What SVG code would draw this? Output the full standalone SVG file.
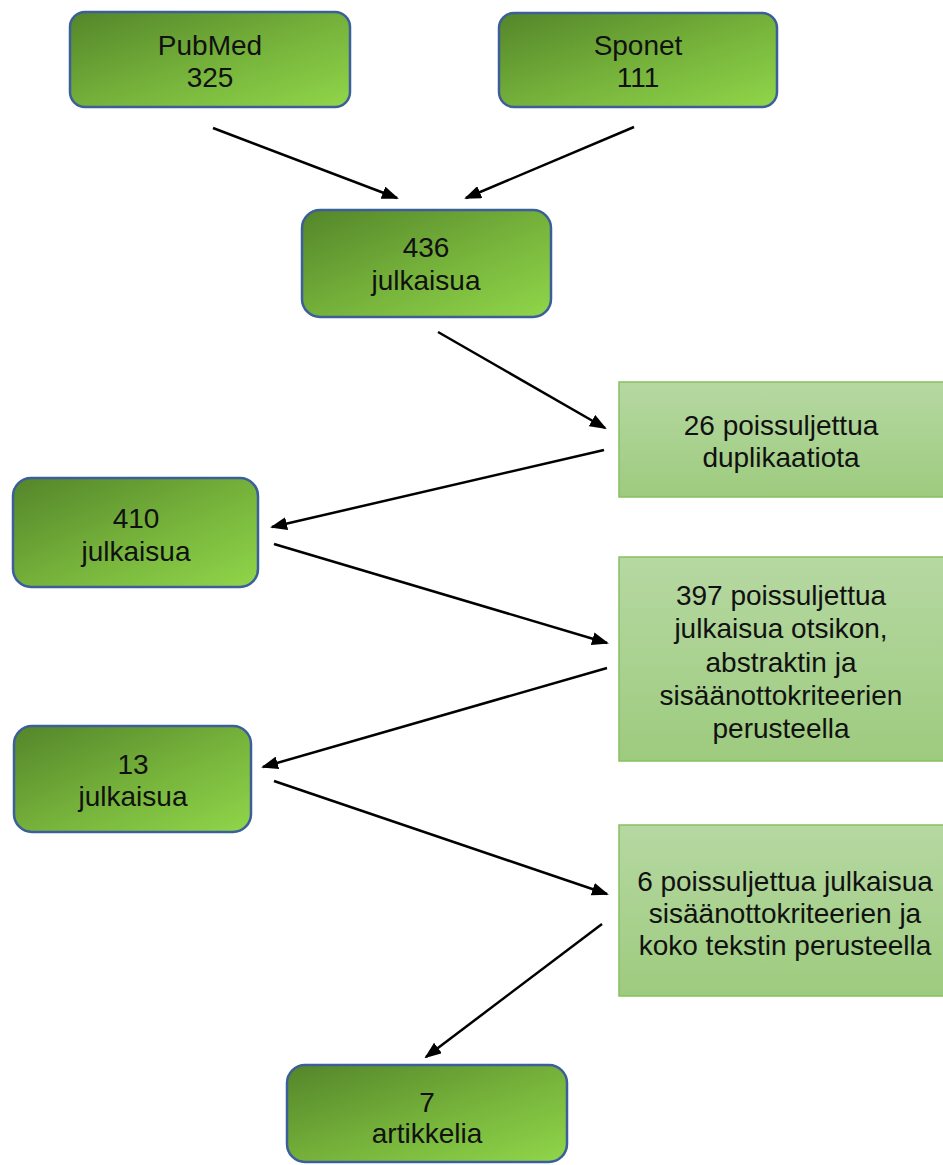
<svg xmlns="http://www.w3.org/2000/svg" width="943" height="1165" viewBox="0 0 943 1165">
<defs>
<linearGradient id="gDark" x1="0" y1="0" x2="1" y2="1">
<stop offset="0" stop-color="#54852a"/>
<stop offset="0.5" stop-color="#74b03a"/>
<stop offset="1" stop-color="#90d64a"/>
</linearGradient>
<linearGradient id="gLight" x1="0" y1="0" x2="0" y2="1">
<stop offset="0" stop-color="#b6d8a2"/>
<stop offset="1" stop-color="#9dcb7e"/>
</linearGradient>
<marker id="ah" markerWidth="17" markerHeight="13" refX="15" refY="6.5" orient="auto" markerUnits="userSpaceOnUse" viewBox="0 0 17 13">
<path d="M0,0 L17,6.5 L0,13 z" fill="#000"/>
</marker>
</defs>
<style>
.rn{fill:url(#gDark);stroke:#3c5f9a;stroke-width:2.5}
.sq{fill:url(#gLight);stroke:#86c060;stroke-width:1.5}
text{font-family:"Liberation Sans",Arial,sans-serif;font-size:28px;fill:#111;text-anchor:middle}
.c line{stroke:#000;stroke-width:2.5;marker-end:url(#ah)}
</style>
<rect width="943" height="1165" fill="#fff"/>
<g class="c" id="connectors">
<line x1="213" y1="128" x2="397" y2="198"/>
<line x1="634" y1="127" x2="466" y2="198"/>
<line x1="438" y1="332" x2="605" y2="428"/>
<line x1="604" y1="450" x2="272" y2="527"/>
<line x1="274" y1="544" x2="607" y2="643"/>
<line x1="607" y1="668" x2="263" y2="767"/>
<line x1="274" y1="781" x2="607" y2="894"/>
<line x1="602" y1="924" x2="426" y2="1057"/>
</g>
<g id="pubmed"><rect class="rn" x="70" y="12" width="280" height="95" rx="15"/><text x="210" y="55">PubMed</text><text x="210" y="87">325</text></g>
<g id="sponet"><rect class="rn" x="499" y="13" width="278" height="94" rx="15"/><text x="638" y="55">Sponet</text><text x="638" y="87">111</text></g>
<g id="n436"><rect class="rn" x="302" y="210" width="249" height="107" rx="18"/><text x="426" y="257">436</text><text x="426" y="290">julkaisua</text></g>
<g id="ex26"><rect class="sq" x="619" y="382" width="326" height="115"/><text x="781" y="435">26 poissuljettua</text><text x="781" y="467">duplikaatiota</text></g>
<g id="n410"><rect class="rn" x="13" y="478" width="245" height="109" rx="18"/><text x="136" y="528">410</text><text x="136" y="561">julkaisua</text></g>
<g id="ex397"><rect class="sq" x="619" y="557" width="326" height="204"/><text x="781" y="605">397 poissuljettua</text><text x="781" y="638">julkaisua otsikon,</text><text x="781" y="672">abstraktin ja</text><text x="781" y="705">sisäänottokriteerien</text><text x="781" y="738">perusteella</text></g>
<g id="n13"><rect class="rn" x="14" y="726" width="237" height="106" rx="18"/><text x="133" y="774">13</text><text x="133" y="806">julkaisua</text></g>
<g id="ex6"><rect class="sq" x="619" y="825" width="326" height="171"/><text x="785" y="891">6 poissuljettua julkaisua</text><text x="785" y="923">sisäänottokriteerien ja</text><text x="785" y="955">koko tekstin perusteella</text></g>
<g id="n7"><rect class="rn" x="287" y="1065" width="280" height="97" rx="18"/><text x="427" y="1112">7</text><text x="427" y="1143">artikkelia</text></g>
</svg>
